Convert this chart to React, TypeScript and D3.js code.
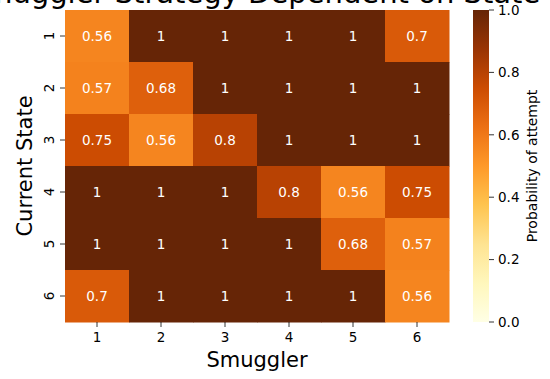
import React from 'react';
import * as d3 from 'd3';

const states = ['1', '2', '3', '4', '5', '6'];
const smugglers = ['1', '2', '3', '4', '5', '6'];
// rows = current state, columns = smuggler
const probs = [
  [0.56, 1, 1, 1, 1, 0.7],
  [0.57, 0.68, 1, 1, 1, 1],
  [0.75, 0.56, 0.8, 1, 1, 1],
  [1, 1, 1, 0.8, 0.56, 0.75],
  [1, 1, 1, 1, 0.68, 0.57],
  [0.7, 1, 1, 1, 1, 0.56],
];
const cbarTicks = [0, 0.2, 0.4, 0.6, 0.8, 1.0];
// matplotlib YlOrBr stops
const ylOrBr = ['#ffffe5', '#fff7bc', '#fee391', '#fec44f', '#fe9929', '#ec7014', '#cc4c02', '#993404', '#662506'];

const W = 550;
const H = 379;
const left = 65, top = 10, right = 449, bottom = 322;
const font = 'DejaVu Sans, sans-serif';

export default function App() {
  const x = d3.scaleBand().domain(smugglers).range([left, right]);
  const y = d3.scaleBand().domain(states).range([top, bottom]);
  const color = d3.scaleLinear<string>()
    .domain(d3.range(ylOrBr.length).map(i => i / (ylOrBr.length - 1)))
    .range(ylOrBr)
    .interpolate(d3.interpolateRgb);

  const cbX = 473, cbW = 16;
  const cbY = d3.scaleLinear().domain([0, 1]).range([bottom, top]);
  const gradStops = d3.range(0, 1.0001, 0.125);

  const cells = probs.flatMap((row, i) => row.map((v, j) => ({ v, r: states[i], c: smugglers[j] })));

  return (
    <svg width={W} height={H} style={{ position: 'absolute', left: 0, top: 0 }} fontFamily={font}>
      <defs>
        <linearGradient id="cb" x1="0" y1="1" x2="0" y2="0">
          {gradStops.map(s => <stop key={s} offset={s} stopColor={color(s)} />)}
        </linearGradient>
      </defs>
      {cells.map((d, k) => (
        <g key={k}>
          <rect x={x(d.c)!} y={y(d.r)!} width={x.bandwidth() + 0.5} height={y.bandwidth() + 0.5} fill={color(d.v)} />
          <text x={x(d.c)! + x.bandwidth() / 2} y={y(d.r)! + y.bandwidth() / 2} dy="0.36em"
            textAnchor="middle" fontSize={13.5} fill="#fff">{d3.format('')(d.v)}</text>
        </g>
      ))}
      <text x={253} y={3} textAnchor="middle" fontSize={29} fill="#000">
        Smuggler Strategy Dependent on State
      </text>
      {/* x axis */}
      {smugglers.map(s => (
        <g key={s} transform={`translate(${x(s)! + x.bandwidth() / 2},${bottom})`}>
          <line y2={5} stroke="#000" strokeWidth={0.8} />
          <text y={20} textAnchor="middle" fontSize={13.5} fill="#000">{s}</text>
        </g>
      ))}
      <text x={(left + right) / 2} y={367} textAnchor="middle" fontSize={21} fill="#000">Smuggler</text>
      {/* y axis */}
      {states.map(s => (
        <g key={s} transform={`translate(${left},${y(s)! + y.bandwidth() / 2})`}>
          <line x2={-5} stroke="#000" strokeWidth={0.8} />
          <text transform="translate(-11,0) rotate(-90)" textAnchor="middle" fontSize={13.5} fill="#000">{s}</text>
        </g>
      ))}
      <text transform={`translate(32,${(top + bottom) / 2}) rotate(-90)`} textAnchor="middle" fontSize={21} fill="#000">
        Current State
      </text>
      {/* colorbar */}
      <rect x={cbX} y={top} width={cbW} height={bottom - top} fill="url(#cb)" />
      {cbarTicks.map(t => (
        <g key={t} transform={`translate(${cbX + cbW},${cbY(t)})`}>
          <line x2={5} stroke="#000" strokeWidth={0.8} />
          <text x={9} dy="0.36em" fontSize={13.5} fill="#000">{d3.format('.1f')(t)}</text>
        </g>
      ))}
      <text transform={`translate(537,${(top + bottom) / 2}) rotate(-90)`} textAnchor="middle" fontSize={14} fill="#000">
        Probability of attempt
      </text>
    </svg>
  );
}
